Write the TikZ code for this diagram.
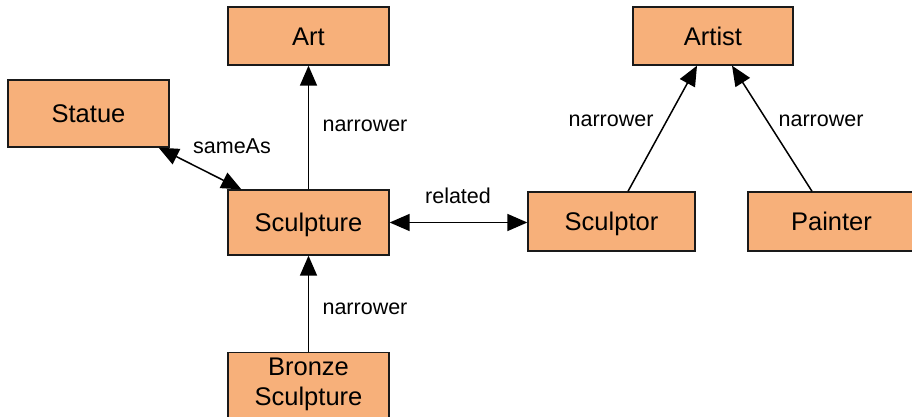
\documentclass[tikz,border=0pt]{standalone}
\usepackage{fontspec}
\setmainfont{Liberation Sans}
\usetikzlibrary{arrows.meta,calc}
\definecolor{boxfill}{HTML}{F7B07A}
\definecolor{boxline}{HTML}{1A1A1A}
\tikzset{
  concept/.style={draw=boxline, fill=boxfill, line width=1.3pt, inner sep=0pt,
    font=\fontsize{25.5}{30}\selectfont, text height=18.3pt, text depth=0pt},
  rel/.style={line width=1.5pt, draw=black, -{Triangle[length=20pt,width=17pt]}},
  birel/.style={line width=1.5pt, draw=black, {Triangle[length=20pt,width=17pt]}-{Triangle[length=20pt,width=17pt]}},
  lbl/.style={font=\fontsize{21.5}{25}\selectfont, inner sep=0pt, text height=15.5pt, text depth=0pt},
  line/.style={font=\fontsize{25.5}{30}\selectfont, inner sep=0pt, anchor=base}
}
\begin{document}
\begin{tikzpicture}[x=1pt,y=-1pt]
  \useasboundingbox (0,0) rectangle (912,417);

  % concepts
  \node[concept, minimum width=161pt, minimum height=58pt] (art) at (308.5,36) {Art};
  \node[concept, minimum width=161pt, minimum height=67pt] (statue) at (88.5,113.5) {Statue};
  \node[concept, minimum width=161pt, minimum height=65pt] (sculpture) at (308.5,222.5) {Sculpture};
  \node[concept, minimum width=160pt, minimum height=58pt] (artist) at (713,36) {Artist};
  \node[concept, minimum width=167pt, minimum height=59pt] (sculptor) at (611.5,221.5) {Sculptor};
  \node[concept, minimum width=167pt, minimum height=59pt] (painter) at (831.5,221.5) {Painter};
  \node[concept, minimum width=161pt, minimum height=78pt, anchor=north] (bronze) at (308.5,352) {};
  \node[line] (bronzeA) at (308.5,375.5) {Bronze};
  \node[line] (bronzeB) at (308.5,405.5) {Sculpture};

  % relations
  \draw[rel] (sculpture.north) -- (art.south);
  \draw[birel] ($(statue.south east)+(-11,0)$) -- ($(sculpture.north west)+(14,0)$);
  \draw[birel] (sculpture.east) -- (sculpture.east -| sculptor.west);
  \draw[rel] ($(sculptor.north)+(16.5,0)$) -- ($(artist.south)+(-16,0)$);
  \draw[rel] ($(painter.north)+(-19.5,0)$) -- ($(artist.south)+(19,0)$);
  \draw[rel] (bronze.north) -- (sculpture.south);

  % relation labels
  \node[lbl] (l1) at (365,124) {narrower};
  \node[lbl] (l2) at (232,146) {sameAs};
  \node[lbl] (l3) at (458,196) {related};
  \node[lbl] (l4) at (611,119) {narrower};
  \node[lbl] (l5) at (821,119) {narrower};
  \node[lbl] (l6) at (365,307) {narrower};
\end{tikzpicture}
\end{document}
